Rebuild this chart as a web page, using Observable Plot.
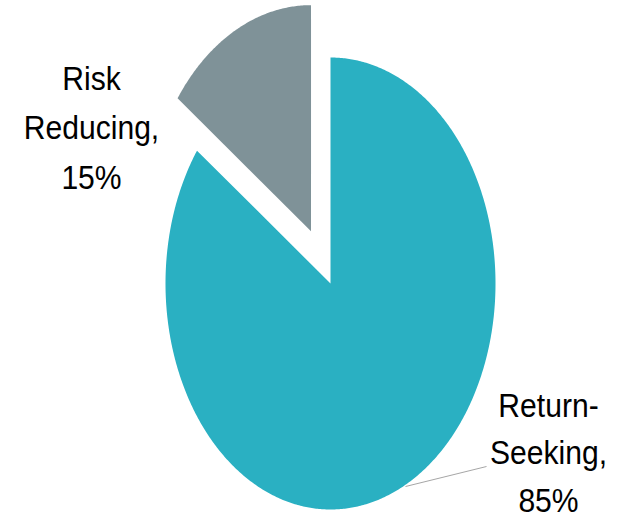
<!DOCTYPE html>
<html><head><meta charset="utf-8">
<script src="https://cdn.jsdelivr.net/npm/d3@7"></script>
<script src="https://cdn.jsdelivr.net/npm/@observablehq/plot@0.6"></script>
<style>body{margin:0;background:#fff}</style>
</head><body><div id="chart"></div>
<script>
// ---- data ----
const categories = ["Return-Seeking", "Risk Reducing"];
const values = [85, 15];
const labelTexts = ["Return-\nSeeking,\n85%", "Risk\nReducing,\n15%"];
const colors = ["#2AB0C2", "#7F9298"];
const explode = [0, 0.26];

// ---- layout ----
const W = 617, H = 517;
const cx = 330, cy = 283, rx = 165, ry = 226;
const nx = px => (px - cx) / rx;
const ny = py => (cy - py) / ry;

// build slice polygons from values (angles clockwise from top)
const total = d3.sum(values);
const pts = [];
let acc = 0;
values.forEach((v, i) => {
  const cat = categories[i];
  const a0 = acc / total * 2 * Math.PI; acc += v;
  const a1 = acc / total * 2 * Math.PI;
  const mid = (a0 + a1) / 2;
  const ox = explode[i] * Math.sin(mid), oy = explode[i] * Math.cos(mid);
  pts.push({cat, x: ox, y: oy});
  const n = Math.max(4, Math.ceil((a1 - a0) / (2 * Math.PI) * 720));
  for (let k = 0; k <= n; k++) {
    const a = a0 + (a1 - a0) * k / n;
    pts.push({cat, x: ox + Math.sin(a), y: oy + Math.cos(a)});
  }
  pts.push({cat, x: ox, y: oy});
});

const font = "'Liberation Sans', Arial, sans-serif";
const fs = 34;
const plot = Plot.plot({
  width: W, height: H,
  margin: 0,
  style: {background: "#fff", fontFamily: font},
  x: {domain: [-1, 1], range: [cx - rx, cx + rx], axis: null},
  y: {domain: [-1, 1], range: [cy + ry, cy - ry], axis: null},
  color: {domain: categories, range: colors},
  marks: [
    Plot.line(pts, {x: "x", y: "y", z: "cat", fill: "cat", stroke: "none", curve: "linear"}),
    Plot.link([{x1: nx(405), y1: ny(486), x2: nx(486), y2: ny(466)}],
      {x1: "x1", y1: "y1", x2: "x2", y2: "y2", stroke: "#A6A6A6", strokeWidth: 1}),
    Plot.text([{x: nx(91), y: ny(188), t: labelTexts[1]}],
      {x: "x", y: "y", text: "t", textAnchor: "middle", lineAnchor: "bottom",
       lineHeight: 49.5 / fs, fontSize: fs, fill: "#000", fontFamily: font}),
    Plot.text([{x: nx(548), y: ny(511), t: labelTexts[0]}],
      {x: "x", y: "y", text: "t", textAnchor: "middle", lineAnchor: "bottom",
       lineHeight: 47.5 / fs, fontSize: fs, fill: "#000", fontFamily: font})
  ]
});
// horizontally condense label text (as in the reference)
plot.querySelectorAll("text").forEach(t => {
  const tr = t.getAttribute("transform") || "";
  t.setAttribute("transform", tr + " scale(0.885,1)");
});
document.getElementById("chart").appendChild(plot);
</script>
</body></html>
